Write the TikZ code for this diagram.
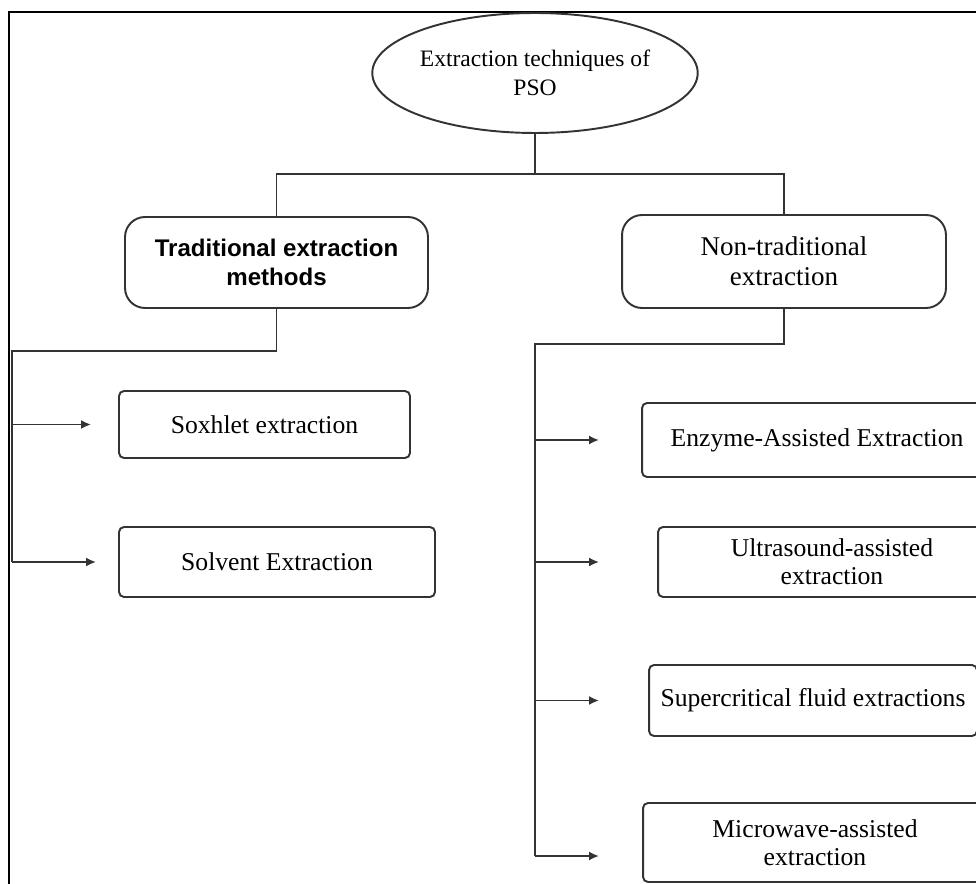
\documentclass[tikz,border=0pt]{standalone}
\usepackage{fontspec}
\setmainfont{Liberation Serif}
\newfontfamily\headsans{Liberation Sans}
\usetikzlibrary{shapes.geometric,arrows.meta}

\tikzset{
  box/.style={draw=black!80, line width=1.1pt, align=center, inner sep=0pt},
  headbox/.style={box, rounded corners=0.4cm},
  leaf/.style={box, rounded corners=0.1cm, font=\fontsize{14.6}{15.9}\selectfont},
  link/.style={draw=black!80, line width=1.1pt},
  arr/.style={link, -{Latex[length=0.2cm,width=0.18cm]}}
}

\begin{document}
\begin{tikzpicture}[x=0.02cm,y=-0.02cm]
  \useasboundingbox (0,0) rectangle (976,884);
  \clip (0,0) rectangle (976,884);
  % frame, cut at right and bottom
  \draw[line width=1.1pt] (9,12) rectangle (1000,900);

  \node[box, ellipse, minimum width=5.82cm, minimum height=2.4cm,
        font=\fontsize{13.4}{16.5}\selectfont] (root) at (535,73) {Extraction techniques of\\PSO};

  \node[headbox, minimum width=6.06cm, minimum height=1.82cm,
        font=\headsans\bfseries\fontsize{13.7}{16.5}\selectfont] (trad) at (276.5,262.5) {Traditional extraction\\methods};
  \node[headbox, minimum width=6.48cm, minimum height=1.86cm,
        font=\fontsize{15.4}{17}\selectfont] (nontrad) at (784,261.5) {Non-traditional\\extraction};

  % traditional methods
  \node[leaf, minimum width=5.82cm, minimum height=1.34cm] (soxhlet) at (264.5,424.5) {Soxhlet extraction};
  \node[leaf, minimum width=6.32cm, minimum height=1.4cm] (solvent) at (277,562) {Solvent Extraction};

  % non-traditional methods
  \node[leaf, minimum width=7cm, minimum height=1.48cm] (enzyme) at (817,440) {Enzyme-Assisted Extraction};
  \node[leaf, minimum width=6.96cm, minimum height=1.4cm] (ultra) at (832,562) {Ultrasound-assisted\\extraction};
  \node[leaf, minimum width=6.56cm, minimum height=1.42cm] (superc) at (813,700.5) {Supercritical fluid extractions};
  \node[leaf, minimum width=6.88cm, minimum height=1.58cm] (micro) at (815,842.5) {Microwave-assisted\\extraction};

  % top split
  \coordinate (bus) at (535,174);
  \draw[link] (root) -- (root |- bus);
  \draw[link] (trad) |- (bus) -| (nontrad);

  % left trunk
  \coordinate (lt) at (12,351);
  \draw[link] (trad) |- (lt) -- (lt |- solvent.west);
  \draw[arr, shorten >=0.54cm] (lt |- soxhlet.west) -- (soxhlet.west);
  \draw[arr, shorten >=0.44cm] (lt |- solvent.west) -- (solvent.west);

  % right trunk
  \coordinate (rt) at (535,344);
  \coordinate (mwin) at ([yshift=-0.27cm]micro.west);
  \draw[link] (nontrad) |- (rt) -- (rt |- mwin);
  \draw[arr, shorten >=0.84cm] (rt |- enzyme.west) -- (enzyme.west);
  \draw[arr, shorten >=1.16cm] (rt |- ultra.west) -- (ultra.west);
  \draw[arr, shorten >=0.98cm] (rt |- superc.west) -- (superc.west);
  \draw[arr, shorten >=0.86cm] (rt |- mwin) -- (mwin);
\end{tikzpicture}
\end{document}
